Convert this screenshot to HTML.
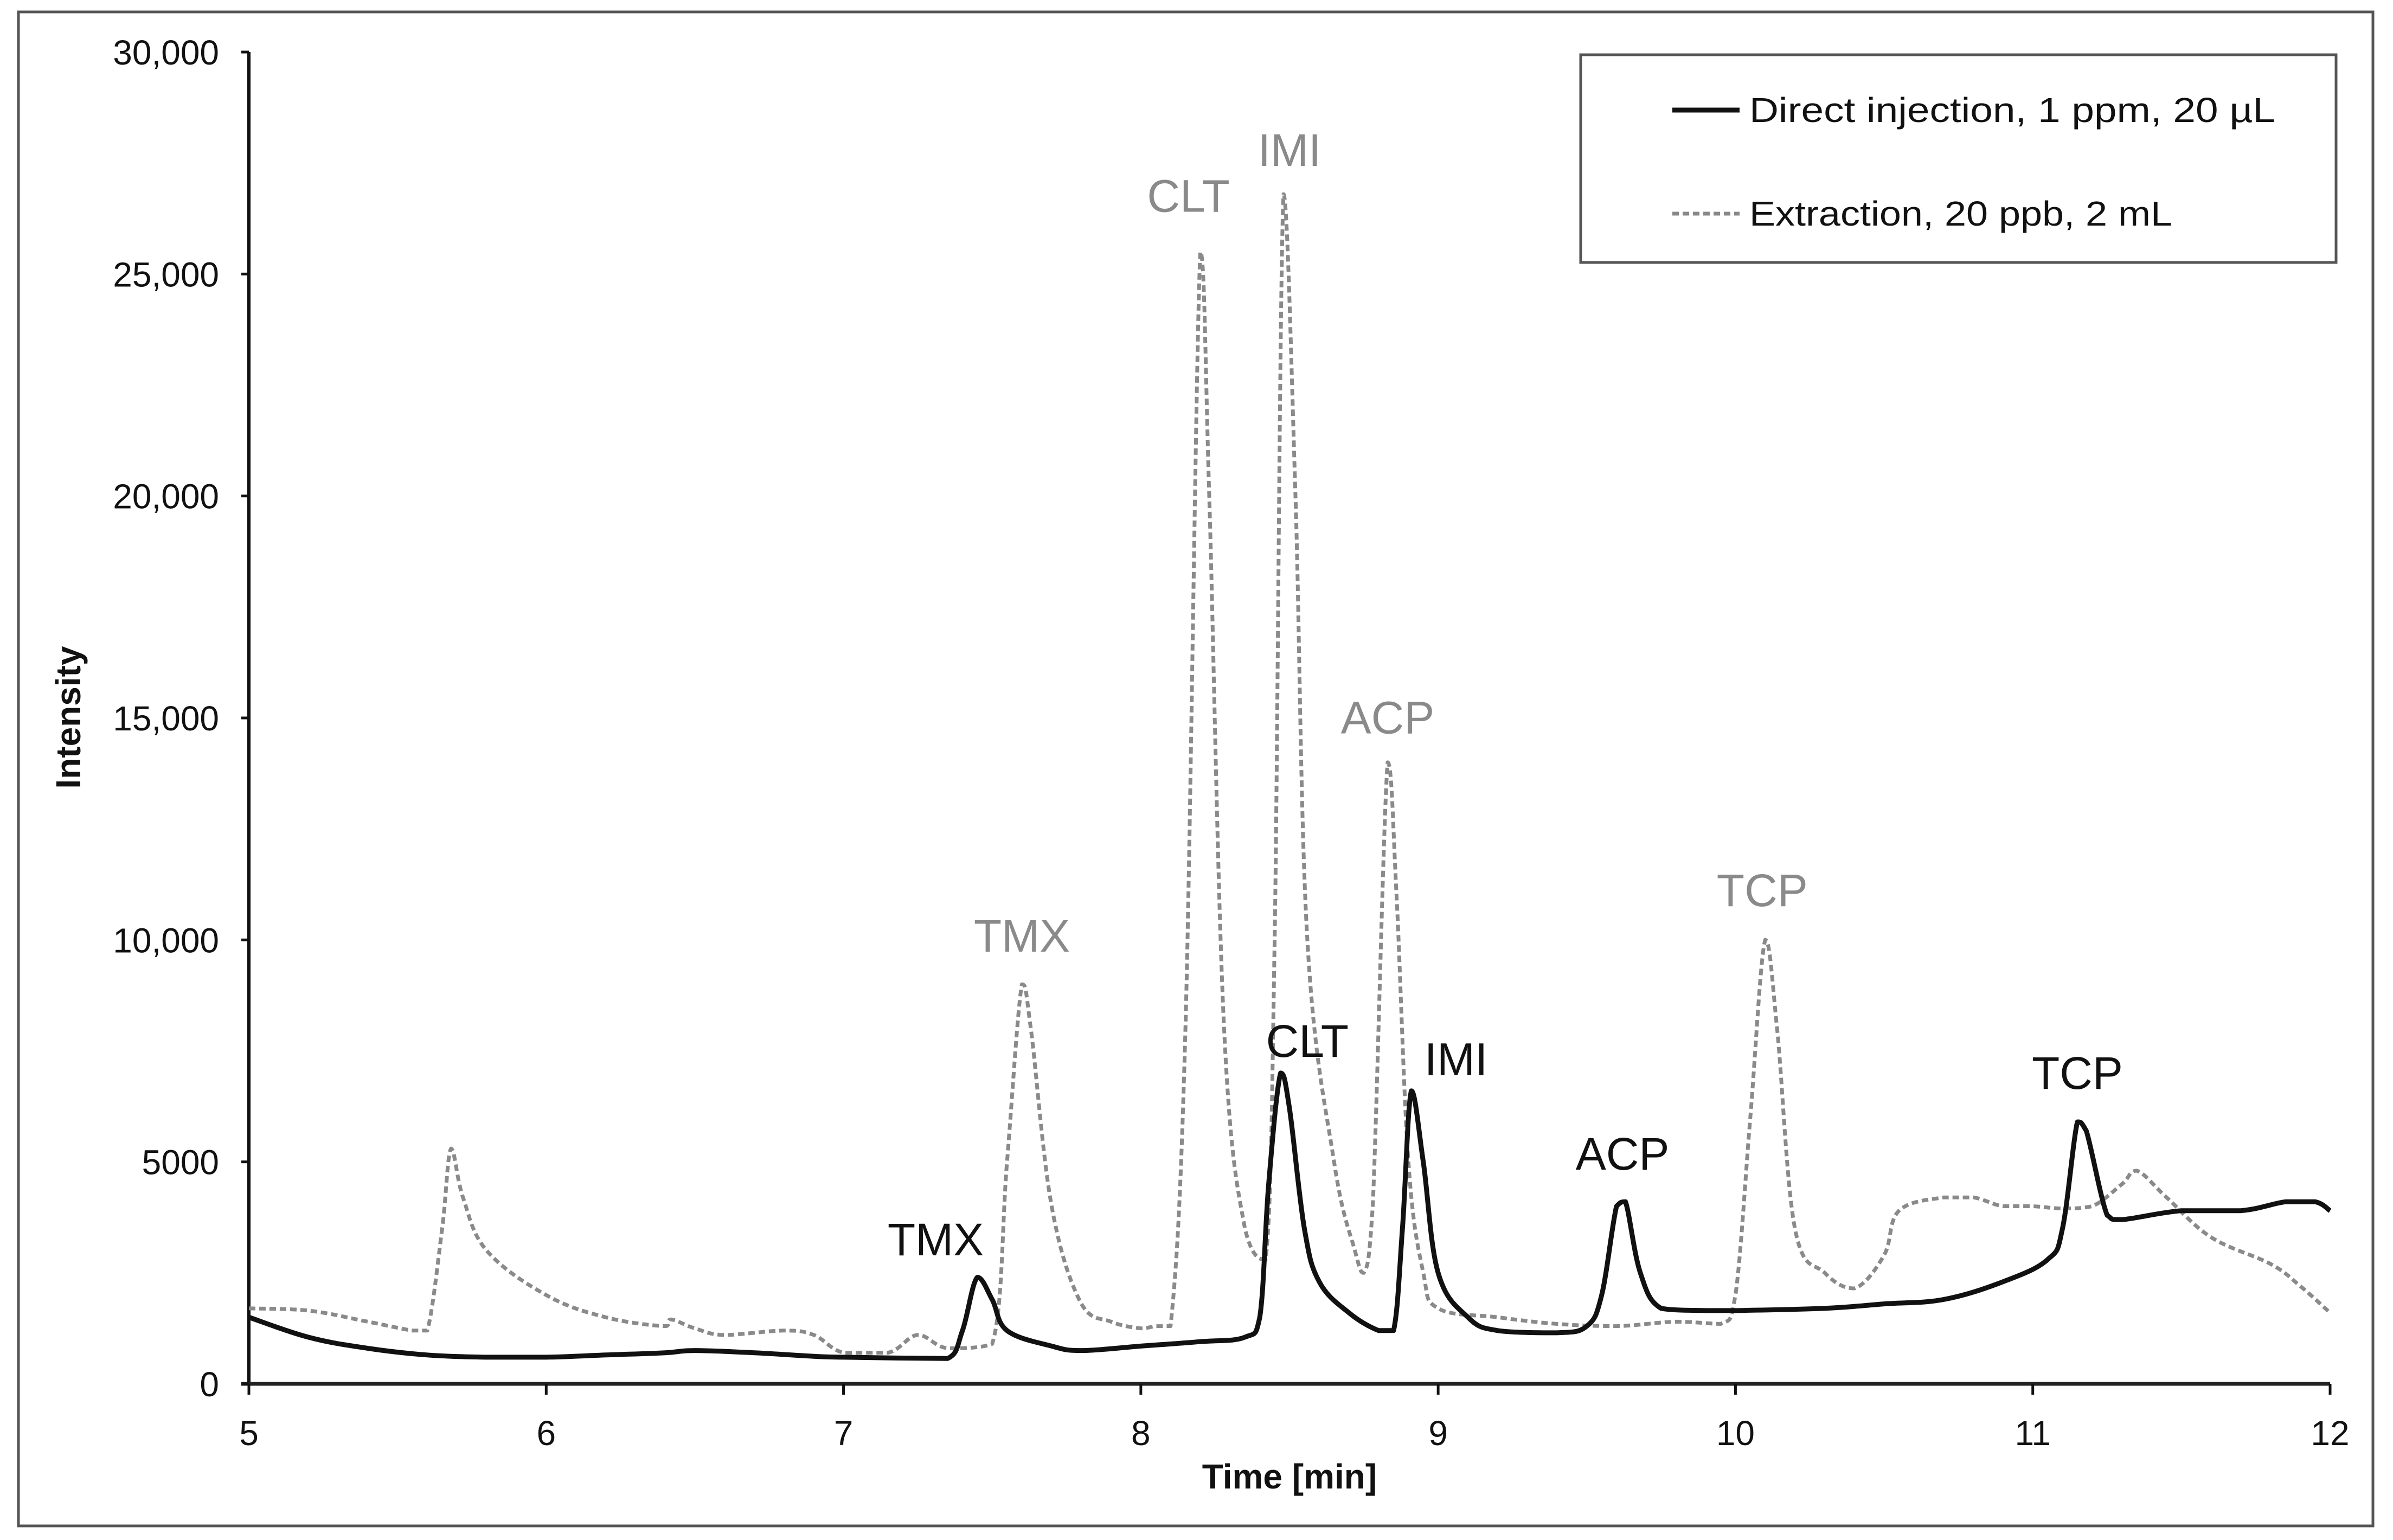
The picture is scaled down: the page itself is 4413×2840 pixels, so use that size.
<!DOCTYPE html>
<html><head><meta charset="utf-8"><style>
html,body{margin:0;padding:0;background:#fff;}
svg{display:block;font-family:"Liberation Sans",sans-serif;}
</style></head><body>
<svg id="chart" width="4413" height="2840" viewBox="0 0 4413 2840" xmlns="http://www.w3.org/2000/svg">
<rect x="34" y="22" width="4342" height="2792" fill="#fff" stroke="#555" stroke-width="5"/>
<g id="axes"></g>
<g id="series"></g>
<g id="labels"></g>
<g>
<rect x="2915" y="101" width="1393" height="383" fill="#fff" stroke="#555" stroke-width="5"/>
<line x1="3084" y1="203" x2="3208" y2="203" stroke="#111" stroke-width="9"/>
<text x="3226" y="225" font-size="64" fill="#111" textLength="970" lengthAdjust="spacingAndGlyphs">Direct injection, 1 ppm, 20 µL</text>
<line x1="3084" y1="394" x2="3208" y2="394" stroke="#888" stroke-width="7" stroke-dasharray="12,7"/>
<text x="3226" y="416" font-size="64" fill="#111" textLength="780" lengthAdjust="spacingAndGlyphs">Extraction, 20 ppb, 2 mL</text>
</g>
<text x="2378" y="2745" font-size="64" font-weight="bold" text-anchor="middle" fill="#111">Time [min]</text>
<text x="0" y="0" transform="translate(148,1323) rotate(-90)" font-size="64" font-weight="bold" text-anchor="middle" fill="#111">Intensity</text>
</svg>
<script>
const xTicks=[5,6,7,8,9,10,11,12];
const yTicks=[0,5000,10000,15000,20000,25000,30000];
const yTickLabels=["0","5000","10,000","15,000","20,000","25,000","30,000"];
const directT=[5.0,5.2,5.4,5.6,5.8,6.0,6.2,6.4,6.5,6.7,6.9,7.0,7.2,7.35,7.4,7.45,7.5,7.55,7.7,7.8,8.0,8.2,8.35,8.4,8.43,8.47,8.5,8.55,8.6,8.7,8.8,8.85,8.88,8.91,8.95,9.0,9.1,9.2,9.4,9.5,9.55,9.6,9.63,9.68,9.75,9.9,10.0,10.3,10.5,10.7,10.9,11.05,11.1,11.15,11.18,11.25,11.3,11.5,11.7,11.85,11.95,12.0];
const directI=[1500,1050,800,650,600,600,650,700,750,700,620,600,580,570,1200,2400,1900,1200,850,750,850,950,1050,1500,4500,7000,6200,3500,2300,1600,1200,1200,3500,6600,5000,2500,1500,1200,1150,1300,2000,4000,4100,2500,1700,1650,1650,1700,1800,1900,2300,2800,3500,5900,5700,3800,3700,3900,3900,4100,4100,3900];
const extractT=[5.0,5.2,5.4,5.55,5.6,5.65,5.68,5.72,5.8,6.0,6.2,6.4,6.42,6.5,6.6,6.8,6.9,7.0,7.15,7.25,7.35,7.5,7.55,7.6,7.63,7.7,7.8,7.9,8.0,8.05,8.1,8.15,8.2,8.23,8.28,8.35,8.42,8.45,8.48,8.52,8.56,8.65,8.72,8.75,8.78,8.83,8.86,8.9,8.95,9.0,9.2,9.4,9.6,9.8,9.95,10.0,10.05,10.1,10.14,10.2,10.3,10.4,10.5,10.55,10.7,10.8,10.9,11.0,11.1,11.2,11.3,11.35,11.45,11.6,11.8,11.9,12.0];
const extractI=[1700,1650,1400,1200,1200,3500,5300,4200,3000,2000,1500,1300,1450,1250,1100,1200,1100,700,700,1100,800,900,5000,9000,8000,4000,1800,1400,1250,1300,1300,8000,25500,20000,8000,3500,2800,10000,26800,20000,10000,5000,3000,2500,4000,14000,11000,5000,2500,1700,1500,1350,1300,1400,1350,2000,6000,10000,8000,3500,2500,2150,2900,3900,4200,4200,4000,4000,3950,4000,4500,4800,4200,3300,2700,2200,1600];
const peakNames=["TMX","CLT","IMI","ACP","TCP"];
const extractLabelT=[7.60,8.16,8.50,8.83,10.09];
const extractLabelI=[10100,26770,27800,15020,11130];
const directLabelT=[7.31,8.56,9.06,9.62,11.15];
const directLabelI=[3260,7730,7320,5190,7010];

const X0=459,X1=4297,Y0=2552,Y1=96;
function sx(t){return X0+(t-5)/(12-5)*(X1-X0);}
function sy(v){return Y0-v/30000*(Y0-Y1);}
const NS="http://www.w3.org/2000/svg";
function mk(tag,attrs,parent){const e=document.createElementNS(NS,tag);for(const k in attrs)e.setAttribute(k,attrs[k]);parent.appendChild(e);return e;}
const axes=document.getElementById('axes');
let e;
e=mk('line',{x1:X0,y1:Y1,x2:X0,y2:Y0,stroke:'#111','stroke-width':6},axes);


e=mk('line',{x1:X0-14,y1:Y0,x2:X1,y2:Y0,stroke:'#222','stroke-width':7},axes);


yTicks.forEach((v,i)=>{
  const t=mk('line',{x1:X0-14,y1:sy(v),x2:X0,y2:sy(v),stroke:'#111','stroke-width':5},axes);
  
  
  const l=mk('text',{x:404,y:sy(v)+23,'font-size':64,'text-anchor':'end',fill:'#111'},axes);
  l.textContent=yTickLabels[i];
  
  
});
xTicks.forEach(v=>{
  const t=mk('line',{x1:sx(v),y1:Y0,x2:sx(v),y2:Y0+20,stroke:'#111','stroke-width':5},axes);
  
  
  const l=mk('text',{x:sx(v),y:2665,'font-size':64,'text-anchor':'middle',fill:'#111'},axes);
  l.textContent=String(v);
  
  
});
const ser=document.getElementById('series');
function clamp(v,a,b){const lo=Math.min(a,b),hi=Math.max(a,b);return Math.min(Math.max(v,lo),hi);}
function path(T,I){
  const P=T.map((t,i)=>[sx(t),sy(I[i])]);
  let d='M'+P[0][0].toFixed(1)+','+P[0][1].toFixed(1);
  for(let i=0;i<P.length-1;i++){
    const p0=P[Math.max(0,i-1)],p1=P[i],p2=P[i+1],p3=P[Math.min(P.length-1,i+2)];
    const k=0.18;
    const c1=[p1[0]+(p2[0]-p0[0])*k,p1[1]+(p2[1]-p0[1])*k];
    const c2=[p2[0]-(p3[0]-p1[0])*k,p2[1]-(p3[1]-p1[1])*k];
    c1[0]=clamp(c1[0],p1[0],p2[0]);c2[0]=clamp(c2[0],p1[0],p2[0]);
    c1[1]=clamp(c1[1],p1[1],p2[1]);c2[1]=clamp(c2[1],p1[1],p2[1]);
    d+=' C'+c1[0].toFixed(1)+','+c1[1].toFixed(1)+' '+c2[0].toFixed(1)+','+c2[1].toFixed(1)+' '+p2[0].toFixed(1)+','+p2[1].toFixed(1);
  }
  return d;
}
e=mk('path',{d:path(extractT,extractI),fill:'none',stroke:'#8a8a8a','stroke-width':7,'stroke-dasharray':'12,7','stroke-linejoin':'round'},ser);


e=mk('path',{d:path(directT,directI),fill:'none',stroke:'#111','stroke-width':9,'stroke-linejoin':'round'},ser);


const lab=document.getElementById('labels');
peakNames.forEach((n,i)=>{
  let a=mk('text',{x:sx(extractLabelT[i]),y:sy(extractLabelI[i])+30,'font-size':84,'text-anchor':'middle',fill:'#8a8a8a'},lab);
  a.textContent=n;
  
  
  let b=mk('text',{x:sx(directLabelT[i]),y:sy(directLabelI[i])+30,'font-size':84,'text-anchor':'middle',fill:'#111'},lab);
  b.textContent=n;
  
  
});
</script>
</body></html>
